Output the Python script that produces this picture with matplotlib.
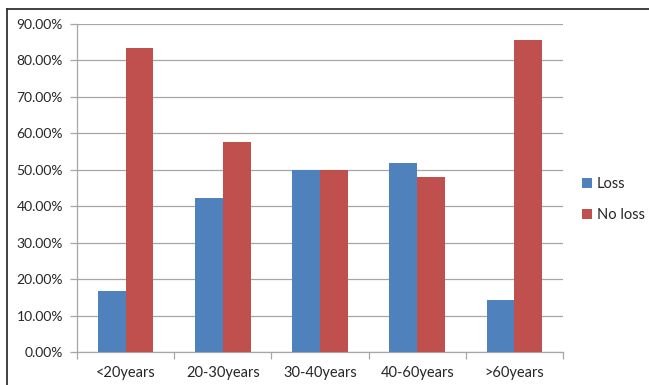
import matplotlib.pyplot as plt
import numpy as np
from matplotlib.lines import Line2D
from matplotlib.ticker import FuncFormatter

plt.rcParams['font.family'] = ['Lato', 'DejaVu Sans']

categories = ['<20years', '20-30years', '30-40years', '40-60years', '>60years']
loss = [16.67, 42.3, 50.0, 51.85, 14.29]
no_loss = [83.33, 57.7, 50.0, 48.15, 85.71]

blue = '#4F81BD'
red = '#C0504D'
grid_col = '#a6a6a6'
text_col = '#262626'

fig = plt.figure(figsize=(6.49, 3.85), dpi=100)
ax = fig.add_axes([77 / 649, 33 / 385, (563 - 77) / 649, (352 - 24) / 385])

x = np.arange(len(categories))
w = 1 / 3.5
ax.bar(x - w / 2, loss, w, color=blue, label='Loss', zorder=3)
ax.bar(x + w / 2, no_loss, w, color=red, label='No loss', zorder=3)

ax.set_xlim(-0.5, len(categories) - 0.5)
ax.set_ylim(0, 90)
ax.set_yticks(np.arange(0, 91, 10))
ax.yaxis.set_major_formatter(FuncFormatter(lambda v, _: f'{v:.2f}%'))
ax.grid(axis='y', color=grid_col, linewidth=0.9, zorder=0)

# category labels centred, tick marks on the boundaries
ax.set_xticks(x)
ax.set_xticklabels(categories)
ax.tick_params(axis='x', length=0, labelsize=10.5, pad=10, labelcolor=text_col)
ax.set_xticks(np.arange(-0.5, len(categories), 1), minor=True)
ax.tick_params(axis='x', which='minor', length=5, color=grid_col, width=0.9)
ax.tick_params(axis='y', length=5, color=grid_col, width=0.9, labelsize=10,
               pad=5, labelcolor=text_col)

for side in ['top', 'right']:
    ax.spines[side].set_visible(False)
for side in ['left', 'bottom']:
    ax.spines[side].set_color(grid_col)
    ax.spines[side].set_linewidth(0.9)

leg = ax.legend(loc='center left', bbox_to_anchor=(1.012, 0.465), frameon=False,
                fontsize=10.5, handlelength=0.7, handleheight=0.7,
                handletextpad=0.3, labelspacing=1.15)
for t in leg.get_texts():
    t.set_color(text_col)

# outer frame (top and left edges)
fig.add_artist(Line2D([7 / 649, 7 / 649], [0, 1 - 9 / 385],
                      transform=fig.transFigure, color='#333333', linewidth=1.3))
fig.add_artist(Line2D([7 / 649, 1], [1 - 9 / 385, 1 - 9 / 385],
                      transform=fig.transFigure, color='#333333', linewidth=1.3))

fig.savefig('out.png', dpi=100)
